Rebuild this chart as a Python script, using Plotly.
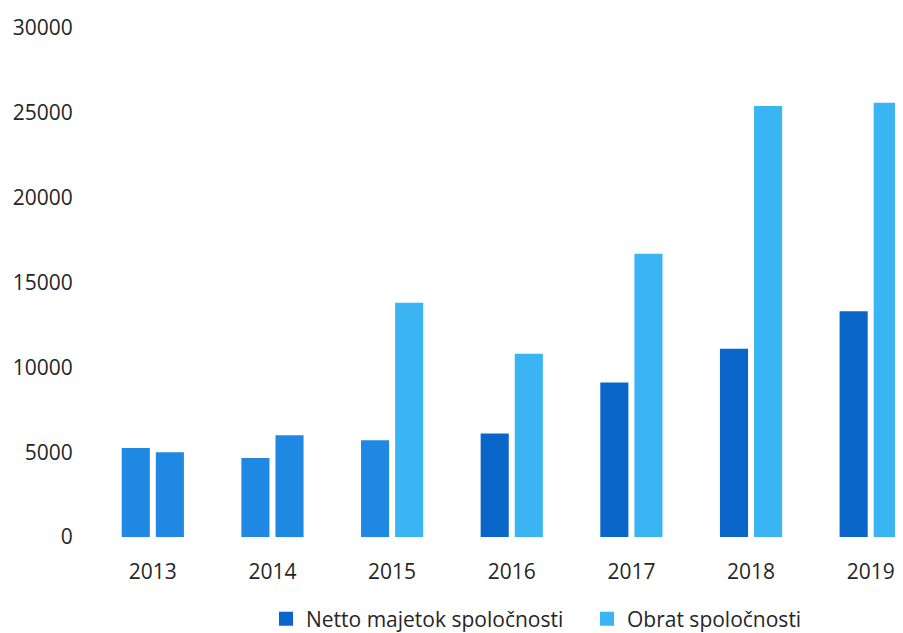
import plotly.graph_objects as go

years = ["2013", "2014", "2015", "2016", "2017", "2018", "2019"]
netto = [5250, 4650, 5700, 6100, 9100, 11100, 13300]
obrat = [5000, 6000, 13800, 10800, 16700, 25400, 25600]
netto_colors = ["#1f88e3", "#1f88e3", "#1f88e3", "#0a66c8", "#0a66c8", "#0a66c8", "#0a66c8"]
obrat_colors = ["#1f88e3", "#1f88e3", "#3ab4f2", "#3ab4f2", "#3ab4f2", "#3ab4f2", "#3ab4f2"]
names = ["Netto majetok spoločnosti", "Obrat spoločnosti"]
legend_colors = ["#0a66c8", "#3ab4f2"]

fig = go.Figure()
fig.add_trace(go.Bar(x=years, y=netto, marker=dict(color=netto_colors, line=dict(width=0)), showlegend=False))
fig.add_trace(go.Bar(x=years, y=obrat, marker=dict(color=obrat_colors, line=dict(width=0)), showlegend=False))
for n, c in zip(names, legend_colors):
    fig.add_trace(go.Scatter(x=[None], y=[None], name=n, mode="markers",
                             marker=dict(color=c, symbol="square", size=14)))

fig.update_layout(
    width=895, height=625,
    margin=dict(l=85, r=0, t=20, b=96),
    paper_bgcolor="white", plot_bgcolor="white",
    barmode="group", bargap=0.43, bargroupgap=0.176,
    font=dict(family="Open Sans", size=21, color="#262626"),
    xaxis=dict(type="category", range=[-0.5, 6.27], showline=False, showgrid=False,
               ticks="outside", ticklen=16, tickcolor="rgba(0,0,0,0)",
               tickfont=dict(size=21), automargin=False),
    yaxis=dict(range=[0, 30000], tickvals=[0, 5000, 10000, 15000, 20000, 25000, 30000],
               tickformat="d",
               showgrid=False, zeroline=False, showline=False,
               ticks="outside", ticklen=15, tickcolor="rgba(0,0,0,0)",
               tickfont=dict(size=21), automargin=False),
    legend=dict(orientation="h", xref="container", yref="container",
                xanchor="left", x=258 / 895, yanchor="top", y=0.055,
                font=dict(size=21), traceorder="normal", itemwidth=30, entrywidth=276),
)
fig.write_html("out.html")
